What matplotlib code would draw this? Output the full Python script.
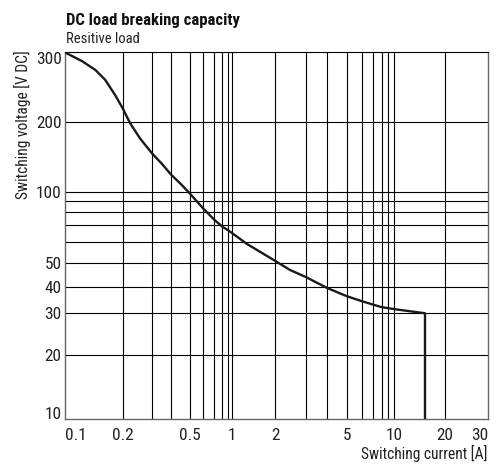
"""DC load breaking capacity curve (resistive load), printed datasheet style."""

import numpy as np
import matplotlib
matplotlib.use("Agg")
import matplotlib.pyplot as plt
from matplotlib import font_manager, ticker

# curve: switching current [A] vs switching voltage [V DC]
current = [0.1, 0.123, 0.144, 0.162, 0.183, 0.2, 0.222, 0.255, 0.3, 0.35, 0.4, 0.45,
           0.5, 0.6, 0.7, 0.8, 0.9, 1.0, 1.26, 2.0, 2.43, 3.0, 4.0, 5.0, 6.0, 7.0,
           8.0, 10.0, 15.2, 15.2]
voltage = [300, 285, 271, 256, 234, 217, 198, 170, 147, 132, 119, 108,
           98, 83, 74, 69, 67, 65, 59, 51, 47, 44, 39.6, 36.2, 34.3, 33,
           32.1, 31.4, 30, 10]

x_ticks = [0.1, 0.2, 0.5, 1, 2, 5, 10, 20, 30]
x_grid = [0.2, 0.3, 0.4, 0.5, 0.6, 0.7, 0.8, 0.9, 1, 2, 3, 4, 5, 6, 7, 8, 9, 10, 20]
y_ticks = [10, 20, 30, 40, 50, 100, 200, 300]
y_grid = [20, 30, 40, 50, 60, 70, 80, 90, 100, 200]

# the printed grid is not a clean log grid: where each value sits along the axis (0..1)
x_cal_values = [0.1, 0.2, 0.3, 0.4, 0.5, 0.6, 0.7, 0.8, 0.9, 1, 2, 3, 4, 5, 6, 7, 8, 9, 10, 20, 30]
x_cal_frac = [0.0, 0.136, 0.205, 0.250, 0.295, 0.327, 0.353, 0.372, 0.384, 0.395, 0.497,
              0.569, 0.620, 0.666, 0.701, 0.728, 0.748, 0.764, 0.778, 0.898, 1.0]
y_cal_values = [10, 20, 30, 40, 50, 60, 70, 80, 90, 100, 200, 300]
y_cal_frac = [0.0, 0.174, 0.289, 0.360, 0.425, 0.484, 0.529, 0.564, 0.596, 0.620, 0.810, 1.0]


def _interp_ext(x, xp, fp):
    y = np.interp(x, xp, fp)
    lo = x < xp[0]
    hi = x > xp[-1]
    y = np.where(lo, fp[0] + (x - xp[0]) * (fp[1] - fp[0]) / (xp[1] - xp[0]), y)
    y = np.where(hi, fp[-1] + (x - xp[-1]) * (fp[-1] - fp[-2]) / (xp[-1] - xp[-2]), y)
    return y


def printed_log_scale(values, fracs):
    logs = np.log10(values)
    fracs = np.asarray(fracs, float)

    def forward(v):
        t = np.log10(np.clip(np.asarray(v, float), 1e-9, None))
        return _interp_ext(t, logs, fracs)

    def inverse(u):
        return 10 ** _interp_ext(np.asarray(u, float), fracs, logs)

    return forward, inverse


def pick_font():
    fonts = font_manager.fontManager.ttflist
    names = {f.name for f in fonts}
    for name in ("Liberation Sans Narrow", "Roboto Condensed", "Open Sans Condensed"):
        if name in names:
            return name, "normal"
    if any(f.name == "DejaVu Sans" and f.stretch == "condensed" for f in fonts):
        return "DejaVu Sans", "condensed"
    return "Roboto", "normal"


family, stretch = pick_font()
plt.rcParams["font.family"] = [family, "DejaVu Sans"]
plt.rcParams["font.stretch"] = stretch

fig = plt.figure(figsize=(4.98, 4.65), dpi=100)
ax = fig.add_axes([0.1305, 0.0983, 0.85, 0.789])

ax.set_xscale("function", functions=printed_log_scale(x_cal_values, x_cal_frac))
ax.set_yscale("function", functions=printed_log_scale(y_cal_values, y_cal_frac))
ax.set_xlim(0.1, 30)
ax.set_ylim(10, 300)

for x in x_grid:
    ax.axvline(x, color="black", lw=0.8, zorder=1)
for y in y_grid:
    ax.axhline(y, color="black", lw=0.8, zorder=1)

ax.plot(current, voltage, color="#1a1a1a", lw=1.7, zorder=3, solid_joinstyle="round")

ax.set_xticks(x_ticks)
ax.set_xticklabels([f"{v:g}" for v in x_ticks])
ax.set_yticks(y_ticks)
ax.set_yticklabels([f"{v:g}" for v in y_ticks])
ax.xaxis.set_minor_locator(ticker.NullLocator())
ax.yaxis.set_minor_locator(ticker.NullLocator())
ax.tick_params(axis="both", length=0, labelsize=12.4, colors="#222222")
ax.tick_params(axis="x", pad=6)
ax.tick_params(axis="y", pad=2.5)

xl = ax.get_xticklabels()
xl[0].set_ha("left")
xl[-1].set_ha("right")
yl = ax.get_yticklabels()
yl[0].set_va("baseline")
yl[-1].set_va("top")

for side in ("left", "bottom", "right"):
    ax.spines[side].set_color("#666666")
    ax.spines[side].set_linewidth(1.0)
ax.spines["top"].set_color("black")

fig.text(0.132, 0.946, "DC load breaking capacity", fontsize=12, fontweight="bold",
         va="baseline", ha="left", color="#111111")
fig.text(0.132, 0.907, "Resitive load", fontsize=10.5, va="baseline", ha="left",
         color="#222222")
fig.text(0.978, 0.013, "Switching current [A]", fontsize=11.2, va="baseline",
         ha="right", color="#222222")
fig.text(0.046, 0.892, "Switching voltage [V DC]", fontsize=11.2, rotation=90,
         va="top", ha="center", color="#222222")

fig.savefig("out.png", dpi=100)
